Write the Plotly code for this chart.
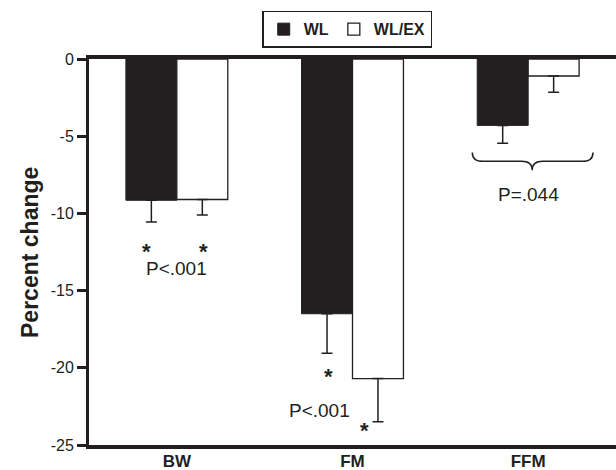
import plotly.graph_objects as go

categories = ["BW", "FM", "FFM"]
wl_values = [-9.15, -16.5, -4.3]
wl_err = [1.4, 2.55, 1.15]
wlex_values = [-9.1, -20.7, -1.1]
wlex_err = [1.0, 2.8, 1.05]
y_tick_values = [0, -5, -10, -15, -20, -25]
y_tick_labels = ["0", "-5", "-10", "-15", "-20", "-25"]

FONT = "Liberation Sans, Arial, sans-serif"
INK = "#231f20"
x_pos = list(range(len(categories)))

fig = go.Figure()
fig.add_trace(go.Bar(
    x=x_pos, y=wl_values, name="WL",
    marker=dict(color=INK, line=dict(color=INK, width=1)),
    error_y=dict(type="data", symmetric=False, array=[0] * 3, arrayminus=wl_err,
                 color=INK, thickness=1.5, width=5.5),
))
fig.add_trace(go.Bar(
    x=x_pos, y=wlex_values, name="WL/EX",
    marker=dict(color="white", line=dict(color=INK, width=1.3)),
    error_y=dict(type="data", symmetric=False, array=[0] * 3, arrayminus=wlex_err,
                 color=INK, thickness=1.5, width=5.5),
))

annots = [
    dict(x=-0.17, y=-12.45, text="<b>*</b>", size=22),
    dict(x=0.153, y=-12.45, text="<b>*</b>", size=22),
    dict(x=0.0, y=-13.55, text="P<.001", size=19),
    dict(x=0.864, y=-20.55, text="<b>*</b>", size=22),
    dict(x=0.81, y=-22.74, text="P<.001", size=19),
    dict(x=1.068, y=-24.05, text="<b>*</b>", size=22),
    dict(x=2.0, y=-8.76, text="P=.044", size=19),
]
for a in annots:
    fig.add_annotation(x=a["x"], y=a["y"], xref="x", yref="y", text=a["text"],
                       showarrow=False, xanchor="center", yanchor="middle",
                       font=dict(family=FONT, size=a["size"], color=INK))

fig.add_annotation(x=-0.112, y=0.5, xref="paper", yref="paper", text="<b>Percent change</b>",
                   textangle=-90, showarrow=False, xanchor="center", yanchor="middle",
                   font=dict(family=FONT, size=23, color=INK))

# brace under FFM
x0, x1, xc = 1.682, 2.369, 2.023
yt, ym, yp = -6.05, -6.63, -7.21
dx = 0.06
path = (f"M {x0},{yt} Q {x0},{ym} {x0+dx},{ym} L {xc-dx},{ym} Q {xc},{ym} {xc},{yp} "
        f"Q {xc},{ym} {xc+dx},{ym} L {x1-dx},{ym} Q {x1},{ym} {x1},{yt}")
fig.add_shape(type="path", path=path, xref="x", yref="y",
              line=dict(color=INK, width=1.5))

fig.update_layout(
    width=616, height=470,
    margin=dict(l=89, r=0, t=59, b=25),
    paper_bgcolor="white", plot_bgcolor="white",
    barmode="group", bargap=0.42, bargroupgap=0,
    showlegend=True,
    legend=dict(orientation="h", x=0.49, xanchor="center", y=1.125, yanchor="top",
                bordercolor=INK, borderwidth=1.5,
                font=dict(family=FONT, size=16, color=INK, weight="bold"),
                itemwidth=30, traceorder="normal"),
    font=dict(family=FONT, color=INK),
    xaxis=dict(range=[-0.5, 2.5], tickvals=x_pos, ticktext=[f"<b>{c}</b>" for c in categories],
               showline=True, linecolor=INK, linewidth=3.5, mirror=True,
               ticks="", showgrid=False, zeroline=False, automargin=False,
               ticklabelstandoff=-2,
               tickfont=dict(family=FONT, size=17, color=INK)),
    yaxis=dict(range=[-25, 0], tickvals=y_tick_values, ticktext=y_tick_labels,
               showline=True, linecolor=INK, linewidth=3, mirror=False,
               ticks="outside", ticklen=9, tickwidth=2.5, tickcolor=INK,
               showgrid=False, zeroline=False, automargin=False,
               tickfont=dict(family=FONT, size=16, color=INK)),
)

fig.write_html("out.html", config={"displayModeBar": False},
               post_script="document.body.style.margin='0';document.body.style.overflow='hidden';")
